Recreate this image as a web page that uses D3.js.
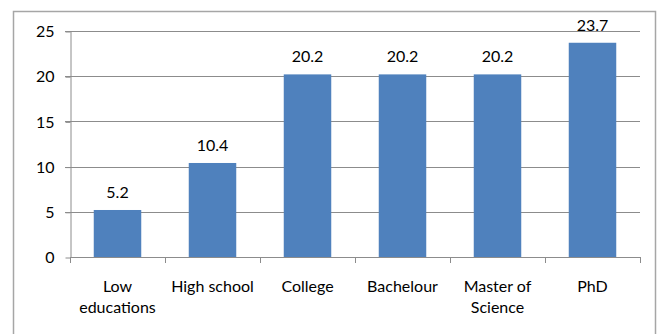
<!DOCTYPE html>
<html>
<head>
<meta charset="utf-8">
<script src="https://cdn.jsdelivr.net/npm/d3@7"></script>
<style>
  body { margin: 0; background: #fff; }
  svg text { font-family: Lato, "Open Sans", sans-serif; fill: #000; }
</style>
</head>
<body>
<div class="container"></div>
<script>
// chart data
var categories = ["Low educations", "High school", "College", "Bachelour", "Master of Science", "PhD"];
var categoryLines = [["Low", "educations"], ["High school"], ["College"], ["Bachelour"], ["Master of", "Science"], ["PhD"]];
var values = [5.2, 10.4, 20.2, 20.2, 20.2, 23.7];
var yTicks = [0, 5, 10, 15, 20, 25];

var W = 660, H = 334;
var margin = { left: 70, right: 20, top: 31, bottom: 77 };
var fontSize = "16px";

var svg = d3.select(".container").append("svg")
  .attr("width", W)
  .attr("height", H);

svg.append("rect")
  .attr("x", 13.5).attr("y", 11.5)
  .attr("width", 642).attr("height", 340)
  .style("fill", "none").style("stroke", "#a6a6a6").style("stroke-width", 1.5);

var x = d3.scaleBand()
  .domain(categories)
  .range([margin.left, W - margin.right])
  .paddingInner(0.5).paddingOuter(0.25);

var y = d3.scaleLinear()
  .domain([0, 25])
  .range([H - margin.bottom, margin.top]);

// gridlines
svg.append("g").selectAll("line")
  .data(yTicks.filter(function(d) { return d > 0; }))
  .enter().append("line")
  .attr("x1", margin.left - 5).attr("x2", W - margin.right)
  .attr("y1", function(d) { return Math.round(y(d)) + 0.5; })
  .attr("y2", function(d) { return Math.round(y(d)) + 0.5; })
  .style("stroke", "#8c8c8c");

// y axis
var yAxis = svg.append("g")
  .attr("transform", "translate(" + (margin.left + 0.5) + ",0.5)")
  .call(d3.axisLeft(y).tickValues(yTicks).tickSize(5).tickSizeOuter(0).tickPadding(11));
yAxis.selectAll("text").style("font-size", fontSize).style("font-family", null);
yAxis.attr("font-family", null).attr("font-size", null);
yAxis.selectAll("line, path").style("stroke", "#8c8c8c");

// x axis baseline + ticks between categories
var step = x.step();
var xg = svg.append("g");
xg.append("line")
  .attr("x1", margin.left).attr("x2", W - margin.right)
  .attr("y1", Math.round(y(0)) + 0.5).attr("y2", Math.round(y(0)) + 0.5)
  .style("stroke", "#8c8c8c");
xg.selectAll("line.tick")
  .data(d3.range(categories.length + 1))
  .enter().append("line")
  .attr("class", "tick")
  .attr("x1", function(i) { return Math.round(margin.left + i * step) + 0.5; })
  .attr("x2", function(i) { return Math.round(margin.left + i * step) + 0.5; })
  .attr("y1", Math.round(y(0))).attr("y2", Math.round(y(0)) + 6)
  .style("stroke", "#8c8c8c");

// category labels
var labels = svg.append("g").selectAll("text")
  .data(categories)
  .enter().append("text")
  .attr("x", function(d) { return x(d) + x.bandwidth() / 2; })
  .attr("y", y(0) + 35)
  .attr("text-anchor", "middle")
  .style("font-size", fontSize);
labels.selectAll("tspan")
  .data(function(d, i) { return categoryLines[i]; })
  .enter().append("tspan")
  .attr("x", function() { return d3.select(this.parentNode).attr("x"); })
  .attr("dy", function(d, i) { return i === 0 ? 0 : 21; })
  .text(function(d) { return d; });

// bars
svg.append("g").selectAll("rect")
  .data(values)
  .enter().append("rect")
  .attr("x", function(d, i) { return x(categories[i]); })
  .attr("y", function(d) { return y(d); })
  .attr("width", x.bandwidth())
  .attr("height", function(d) { return y(0) - y(d); })
  .style("fill", "#4f81bd");

// value labels
svg.append("g").selectAll("text")
  .data(values)
  .enter().append("text")
  .attr("x", function(d, i) { return x(categories[i]) + x.bandwidth() / 2; })
  .attr("y", function(d) { return y(d) - 12; })
  .attr("text-anchor", "middle")
  .style("font-size", fontSize)
  .text(function(d) { return d.toFixed(1); });
</script>
</body>
</html>
